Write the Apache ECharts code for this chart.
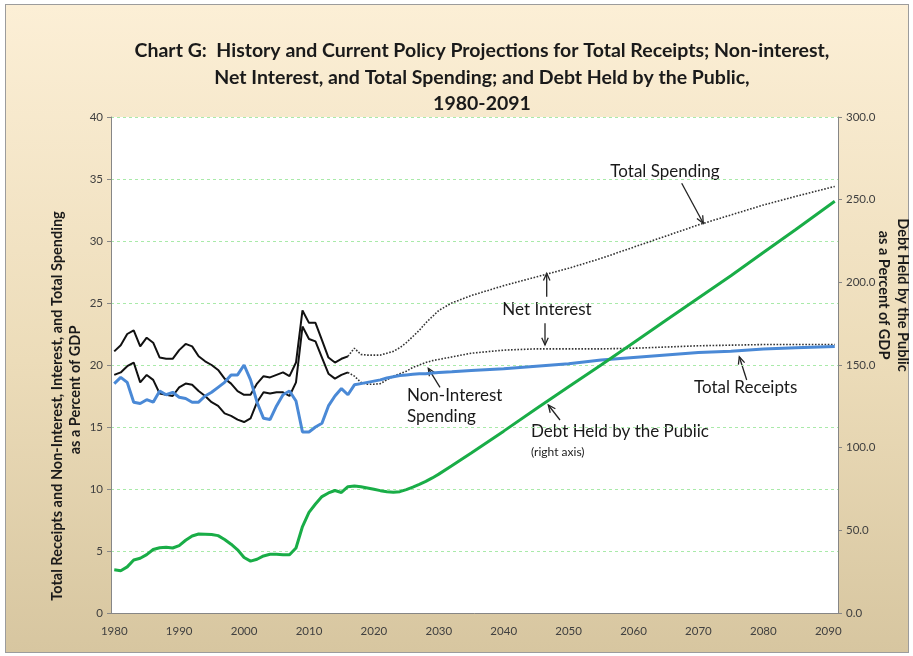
<!DOCTYPE html>
<html>
<head>
<meta charset="utf-8">
<script src="https://cdn.jsdelivr.net/npm/echarts@6/dist/echarts.min.js"></script>
<style>
html, body { margin: 0; padding: 0; background: #fff; }
#frame { position: absolute; left: 5px; top: 4px; width: 902px; height: 647px; border: 1px solid #9c9c9c;
  background: linear-gradient(#fcefd6, #ecdcb9 55%, #d7c6a0); }
#chart { position: absolute; left: 0; top: 0; width: 913px; height: 656px; }
</style>
</head>
<body>
<div id="frame"></div>
<div id="chart"></div>
<script>
// history, one value per year from 1980 to 2016 (percent of GDP)
const histStart = 1980;
const spendHist = [21.1, 21.6, 22.5, 22.8, 21.5, 22.2, 21.8, 20.6, 20.5, 20.5, 21.2, 21.7, 21.5, 20.7, 20.3, 20.0, 19.6, 18.9, 18.5, 17.9,
  17.6, 17.6, 18.5, 19.1, 19.0, 19.2, 19.4, 19.1, 20.2, 24.4, 23.4, 23.4, 22.0, 20.6, 20.2, 20.5, 20.7];
const nonIntHist = [19.2, 19.4, 19.9, 20.2, 18.6, 19.2, 18.8, 17.7, 17.6, 17.5, 18.2, 18.5, 18.4, 17.9, 17.5, 17.0, 16.7, 16.1, 15.9, 15.6,
  15.4, 15.7, 17.0, 17.8, 17.7, 17.8, 17.8, 17.5, 18.6, 23.1, 22.1, 21.9, 20.6, 19.3, 18.9, 19.2, 19.4];
const receiptsHist = [18.5, 19.0, 18.6, 17.0, 16.9, 17.2, 17.0, 17.9, 17.6, 17.8, 17.4, 17.3, 17.0, 17.0, 17.5, 17.8, 18.2, 18.6, 19.2, 19.2,
  20.0, 18.8, 17.0, 15.7, 15.6, 16.7, 17.6, 17.9, 17.1, 14.6, 14.6, 15.0, 15.3, 16.7, 17.5, 18.1, 17.6];
const debtHist = [26.1, 25.6, 27.9, 32.1, 33.1, 35.3, 38.4, 39.5, 39.8, 39.3, 40.8, 44.0, 46.6, 47.8, 47.7, 47.5, 46.8, 44.5, 41.6, 38.2,
  33.6, 31.4, 32.5, 34.5, 35.5, 35.6, 35.3, 35.2, 39.3, 52.3, 60.9, 65.9, 70.4, 72.6, 74.1, 72.9, 76.4];

// projections, read at these years
const projYears = [2016, 2017, 2018, 2019, 2020, 2021, 2022, 2023, 2024, 2025, 2026, 2027, 2028, 2029, 2030, 2032, 2035,
  2040, 2045, 2050, 2055, 2060, 2065, 2070, 2075, 2080, 2085, 2091];
const spendProj = [20.7, 21.35, 20.85, 20.8, 20.8, 20.8, 20.95, 21.1, 21.4, 21.8, 22.3, 22.8, 23.4, 23.9, 24.4, 25.0, 25.6,
  26.4, 27.1, 27.8, 28.6, 29.5, 30.4, 31.3, 32.1, 32.9, 33.6, 34.4];
const nonIntProj = [19.4, 19.1, 18.6, 18.45, 18.45, 18.5, 18.8, 19.1, 19.3, 19.5, 19.8, 20.0, 20.2, 20.35, 20.45, 20.65, 20.95,
  21.2, 21.3, 21.3, 21.3, 21.35, 21.45, 21.55, 21.6, 21.65, 21.65, 21.65];
const receiptsProj = [17.6, 18.4, 18.5, 18.6, 18.7, 18.8, 18.95, 19.05, 19.15, 19.2, 19.25, 19.3, 19.3, 19.35, 19.4, 19.45, 19.55,
  19.7, 19.9, 20.1, 20.4, 20.6, 20.8, 21.0, 21.1, 21.3, 21.4, 21.5];
const debtProj = [76.4, 76.8, 76.3, 75.6, 74.8, 74.0, 73.4, 73.0, 73.4, 74.6, 76.1, 77.8, 79.6, 81.7, 84.0, 89.0, 96.8,
  110.0, 123.5, 136.8, 150.0, 163.5, 177.0, 190.5, 204.0, 218.0, 232.0, 249.0];

const years = [];
for (let y = 1980; y <= 2091; y++) years.push(String(y));

function hist(vals) { return vals.map((v, i) => [String(histStart + i), v]); }
function proj(vals) { return vals.map((v, i) => [String(projYears[i]), v]); }

const FONT = 'Lato';
const chart = echarts.init(document.getElementById('chart'));

// little open arrow for the callouts
function arrow(x1, y1, x2, y2) {
  const a = Math.atan2(y2 - y1, x2 - x1), L = 8, w = 0.42;
  const st = { stroke: '#222', lineWidth: 1.3, fill: null };
  return [
    { type: 'line', shape: { x1: x1, y1: y1, x2: x2, y2: y2 }, style: st },
    { type: 'polyline', shape: { points: [
      [x2 - L * Math.cos(a - w), y2 - L * Math.sin(a - w)], [x2, y2],
      [x2 - L * Math.cos(a + w), y2 - L * Math.sin(a + w)]] }, style: st }
  ];
}
function label(text, x, y, align, size) {
  return { type: 'text', x: x, y: y, style: { text: text, font: (size || 17) + 'px ' + FONT, fill: '#1a1a1a',
    align: align || 'left', verticalAlign: 'middle' } };
}
function sideName(text, x, y, rot) {
  return { type: 'text', x: x, y: y, rotation: rot,
    style: { text: text, font: 'bold 14.5px ' + FONT, fill: '#1a1a1a', align: 'center', verticalAlign: 'middle' } };
}

const graphics = [].concat(
  label('Total Spending', 665, 172, 'center'),
  arrow(681.7, 183.3, 703.3, 223.3),
  label('Net Interest', 547, 310, 'center'),
  arrow(546.7, 296.7, 546.7, 273.3),
  arrow(545, 323.3, 545, 345),
  label('Non-Interest', 407, 396),
  label('Spending', 407, 417),
  arrow(440, 387.3, 428.3, 368.3),
  label('Debt Held by the Public', 531, 432),
  label('(right axis)', 531, 452, 'left', 12),
  arrow(560, 420, 548.3, 405),
  label('Total Receipts', 694, 388),
  arrow(746.7, 380, 739.3, 356.7),
  sideName('Total Receipts and Non-Interest, Interest, and Total Spending', 57, 406, Math.PI / 2),
  sideName('as a Percent of GDP', 75, 390, Math.PI / 2),
  sideName('Debt Held by the Public', 903, 295, -Math.PI / 2),
  sideName('as a Percent of GDP', 884, 295, -Math.PI / 2)
);

const axisText = { color: '#404040', fontFamily: FONT, fontSize: 11.5 };

chart.setOption({
  animation: false,
  backgroundColor: 'transparent',
  title: {
    text: 'Chart G:  History and Current Policy Projections for Total Receipts; Non-interest,\nNet Interest, and Total Spending; and Debt Held by the Public,\n1980-2091',
    left: 477, top: 33, textAlign: 'center',
    textStyle: { fontFamily: FONT, fontWeight: 'bold', fontSize: 19.5, lineHeight: 26.3, color: '#1a1a1a' }
  },
  grid: { left: 111, right: 75, top: 117, bottom: 43, show: true, backgroundColor: '#fff', borderWidth: 0 },
  xAxis: {
    type: 'category', data: years, boundaryGap: true,
    axisLine: { lineStyle: { color: '#868686' } },
    axisTick: { show: false },
    axisLabel: Object.assign({ interval: 9, margin: 12 }, axisText),
    splitLine: { show: false }
  },
  yAxis: [
    {
      type: 'value', min: 0, max: 40, interval: 5,
      axisLine: { show: true, lineStyle: { color: '#868686' } },
      axisTick: { show: true, length: 4, lineStyle: { color: '#868686' } },
      axisLabel: Object.assign({ margin: 8 }, axisText),
      splitLine: { show: true, lineStyle: { color: '#a9eaa9', type: [3, 3], width: 1 } }
    },
    {
      type: 'value', min: 0, max: 300, interval: 50, position: 'right',
      axisLine: { show: true, lineStyle: { color: '#868686' } },
      axisTick: { show: true, length: 4, lineStyle: { color: '#868686' } },
      axisLabel: Object.assign({ margin: 8, formatter: v => v.toFixed(1) }, axisText),
      splitLine: { show: false }
    }
  ],
  series: [
    { name: 'Total Spending', type: 'line', data: hist(spendHist), showSymbol: false,
      lineStyle: { color: '#111', width: 2 }, z: 3 },
    { name: 'Total Spending (proj)', type: 'line', data: proj(spendProj), showSymbol: false,
      lineStyle: { color: '#333', width: 1.6, type: [1.6, 1.6] }, z: 3 },
    { name: 'Non-Interest Spending', type: 'line', data: hist(nonIntHist), showSymbol: false,
      lineStyle: { color: '#111', width: 2 }, z: 3 },
    { name: 'Non-Interest Spending (proj)', type: 'line', data: proj(nonIntProj), showSymbol: false,
      lineStyle: { color: '#333', width: 1.6, type: [1.6, 1.6] }, z: 3 },
    { name: 'Total Receipts', type: 'line', data: hist(receiptsHist).concat(proj(receiptsProj).slice(1)), showSymbol: false,
      lineStyle: { color: '#4a89d6', width: 3 }, z: 4 },
    { name: 'Debt Held by the Public', type: 'line', yAxisIndex: 1, data: hist(debtHist).concat(proj(debtProj).slice(1)),
      showSymbol: false, lineStyle: { color: '#19ad47', width: 3 }, z: 5 }
  ],
  graphic: graphics
});
</script>
</body>
</html>
